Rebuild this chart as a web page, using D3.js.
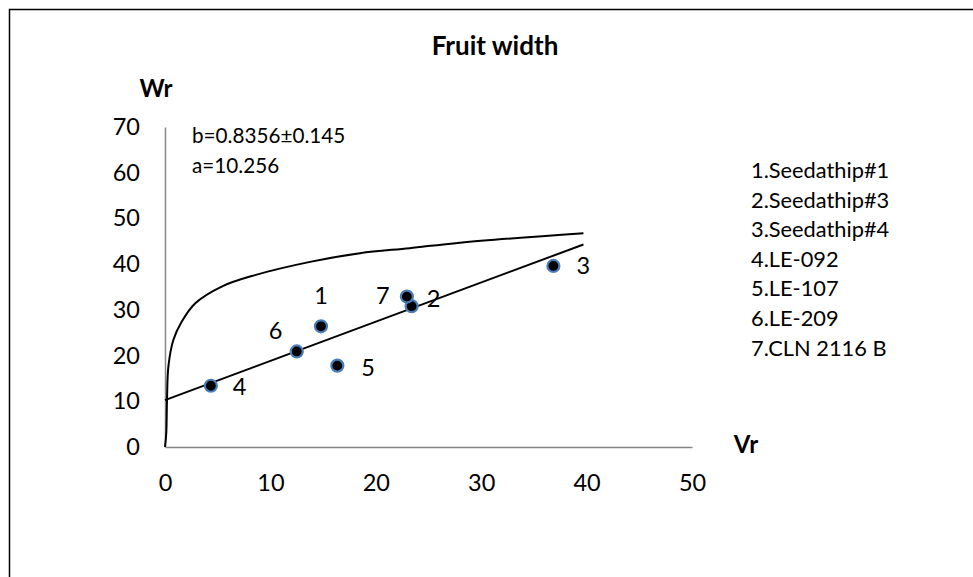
<!DOCTYPE html>
<html>
<head>
<meta charset="utf-8">
<script src="https://cdn.jsdelivr.net/npm/d3@7"></script>
<style>
  html, body { margin: 0; padding: 0; background: #fff; }
  svg { display: block; font-family: Lato, "Open Sans", sans-serif; }
</style>
</head>
<body>
<svg id="chart" width="973" height="577"></svg>
<script>
// Wr-Vr graph for fruit width, 7 genotypes

const genotypes = ['Seedathip#1','Seedathip#3','Seedathip#4','LE-092','LE-107','LE-209','CLN 2116 B'];
const vrValues = [14.8, 23.4, 36.85, 4.35, 16.35, 12.5, 22.95];
const wrValues = [26.4, 30.8, 39.6, 13.4, 17.8, 20.9, 32.9];

// regression line Wr = a + b*Vr, ends
const regVr = [0, 39.7];
const regWr = [10.26, 44.3];
const regText = ['b=0.8356\u00b10.145', 'a=10.256'];

// limiting parabola, points
const parabolaVr = [0, 0.12, 0.19, 0.32, 0.79, 1.58, 2.85, 5.38, 8.54, 13.76, 18.5, 23.2, 28, 39.7];
const parabolaWr = [0, 3, 10.3, 17.6, 23.4, 27.4, 31.4, 35.1, 37.6, 40.5, 42.4, 43.5, 44.7, 46.75];

const xTicks = [0, 10, 20, 30, 40, 50];
const yTicks = [0, 10, 20, 30, 40, 50, 60, 70];

// label placement around each marker (dx, dy from centre, anchor)
const labelPos = {
  1: [0, -22, 'middle'],
  2: [15, 1, 'start'],
  3: [23, 8, 'start'],
  4: [22, 9, 'start'],
  5: [24, 10, 'start'],
  6: [-28, -12, 'start'],
  7: [-31, 7, 'start']
};

const svg = d3.select('#chart');
const x = d3.scaleLinear().domain([0, 50]).range([165, 692]);
const y = d3.scaleLinear().domain([0, 70]).range([447, 127]);

// outer frame (right and bottom edges run off the picture)
svg.append('rect')
  .attr('x', 9.5).attr('y', 9.5)
  .attr('width', 1200).attr('height', 1200)
  .attr('fill', 'none').attr('stroke', '#000').attr('stroke-width', 1.5);

// axes
const yAxis = svg.append('g')
  .attr('transform', `translate(${x(0)},0)`)
  .call(d3.axisLeft(y).tickValues(yTicks).tickSize(0).tickPadding(25));
const xAxis = svg.append('g')
  .attr('transform', `translate(0,${y(0)})`)
  .call(d3.axisBottom(x).tickValues(xTicks).tickSize(0).tickPadding(27));

[xAxis, yAxis].forEach(a => {
  a.select('.domain').attr('stroke', '#868686').attr('stroke-width', 1.5);
  a.selectAll('text').attr('font-family', 'Lato').attr('font-size', 23.5).attr('fill', '#000');
});

// limiting parabola
const parabola = parabolaVr.map((v,i) => [v, parabolaWr[i]]);
svg.append('path')
  .datum(parabola)
  .attr('fill', 'none')
  .attr('stroke', '#000')
  .attr('stroke-width', 2)
  .attr('d', d3.line().x(d => x(d[0])).y(d => y(d[1])).curve(d3.curveCatmullRom.alpha(0.5)));

// regression line
svg.append('path')
  .datum(regVr.map((v,i) => [v, regWr[i]]))
  .attr('fill', 'none')
  .attr('stroke', '#000')
  .attr('stroke-width', 2)
  .attr('d', d3.line().x(d => x(d[0])).y(d => y(d[1])));

// markers
const pts = genotypes.map((g,i) => ({ id: i + 1, name: g, vr: vrValues[i], wr: wrValues[i] }));
svg.append('g').selectAll('circle').data(pts).join('circle')
  .attr('cx', d => x(d.vr))
  .attr('cy', d => y(d.wr))
  .attr('r', 6)
  .attr('fill', '#000')
  .attr('stroke', '#4a7ebb')
  .attr('stroke-width', 2.2);

svg.append('g').selectAll('text').data(pts).join('text')
  .attr('x', d => x(d.vr) + labelPos[d.id][0])
  .attr('y', d => y(d.wr) + labelPos[d.id][1])
  .attr('text-anchor', d => labelPos[d.id][2])
  .attr('font-size', 23.5)
  .text(d => d.id);

// title + axis names
svg.append('text')
  .attr('x', 495).attr('y', 55)
  .attr('text-anchor', 'middle')
  .attr('font-weight', 'bold')
  .attr('font-size', 26)
  .text('Fruit width');
svg.append('text')
  .attr('x', 156).attr('y', 97)
  .attr('text-anchor', 'middle')
  .attr('font-weight', 'bold')
  .attr('font-size', 24)
  .text('Wr');
svg.append('text')
  .attr('x', 746).attr('y', 453)
  .attr('text-anchor', 'middle')
  .attr('font-weight', 'bold')
  .attr('font-size', 24)
  .text('Vr');

// regression coefficients
svg.append('g').selectAll('text').data(regText).join('text')
  .attr('x', 192)
  .attr('y', (d,i) => 143 + i * 30)
  .attr('font-size', 20.7)
  .text(d => d);

// genotype key
svg.append('g').selectAll('text').data(genotypes).join('text')
  .attr('x', 751)
  .attr('y', (d,i) => 178 + i * 29.6)
  .attr('font-size', 21.8)
  .text((d,i) => `${i + 1}.${d}`);
</script>
</body>
</html>
